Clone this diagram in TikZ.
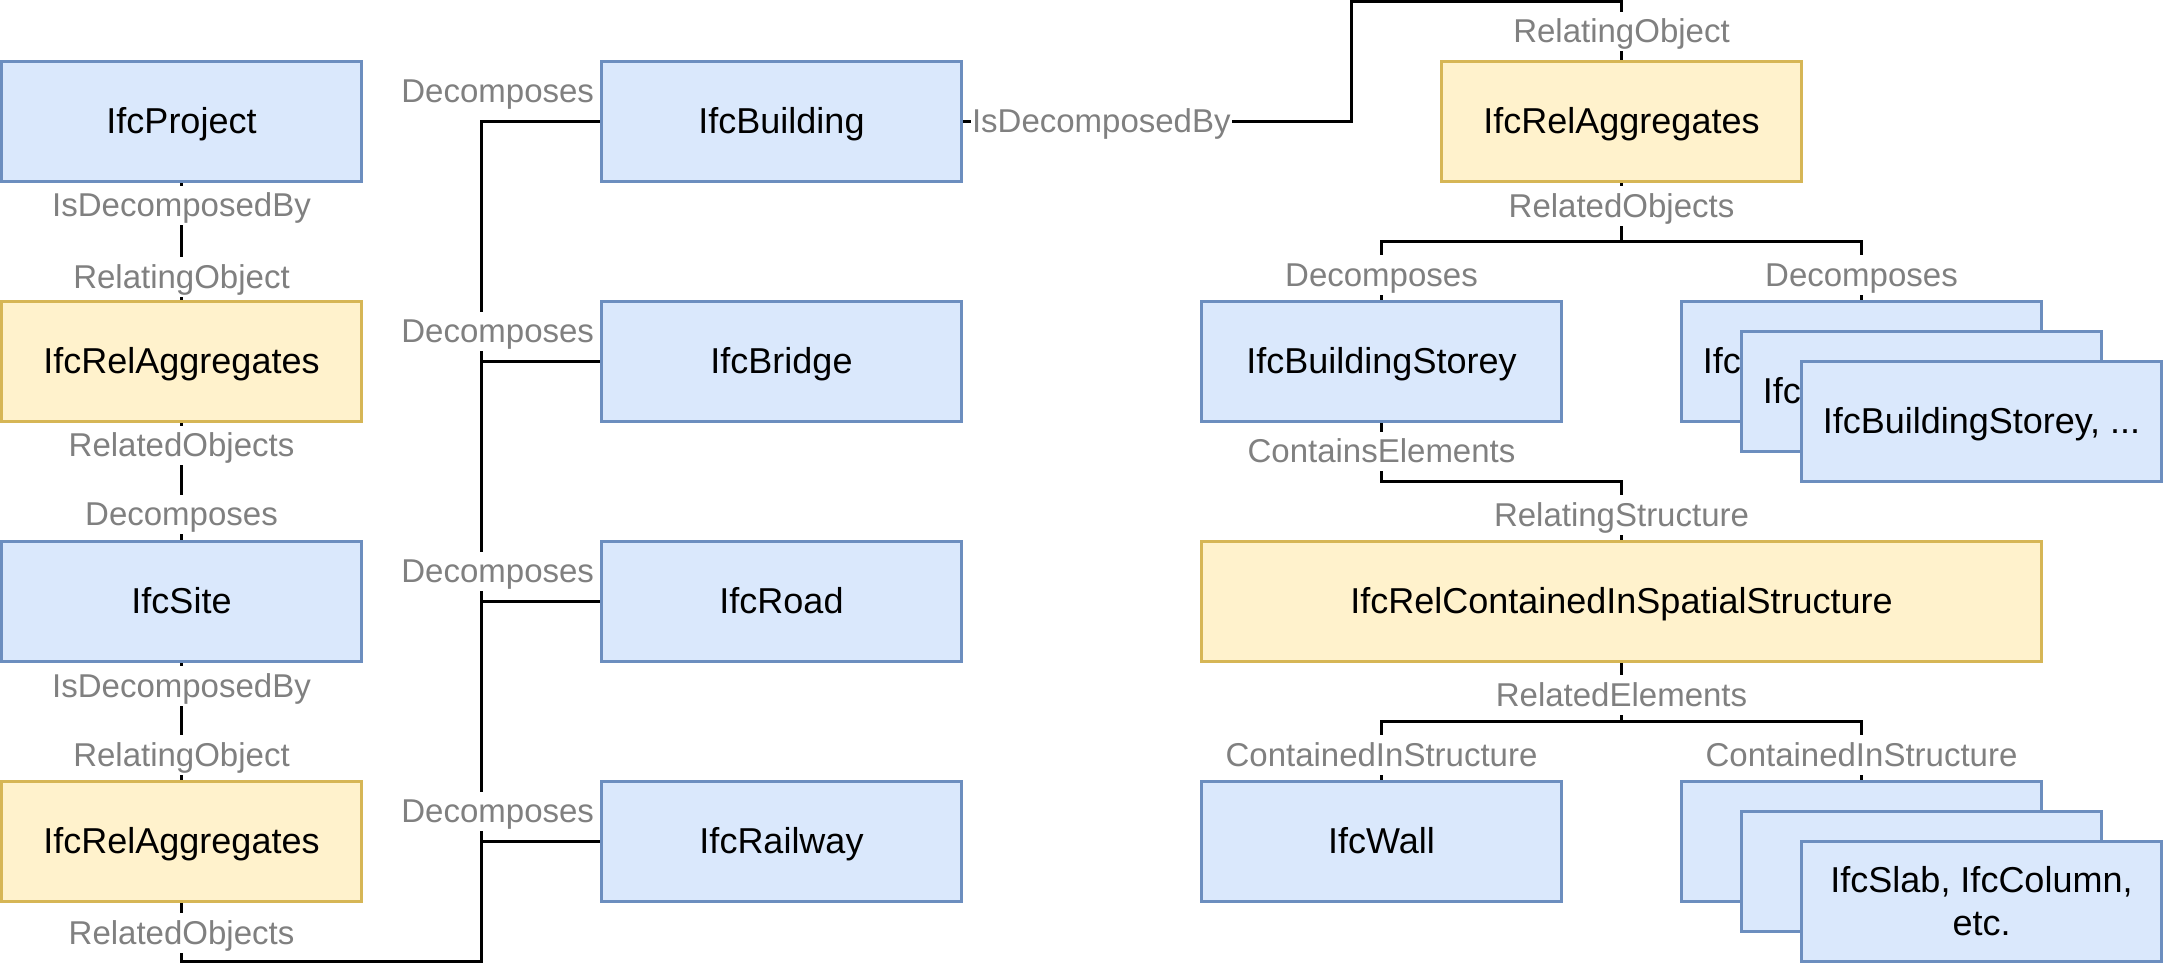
\documentclass[tikz,border=0pt]{standalone}
\usepackage{fontspec}
\setmainfont{Liberation Sans}
\usetikzlibrary{positioning, calc}
\definecolor{ifcBlue}{HTML}{DAE8FC}
\definecolor{ifcBlueLine}{HTML}{6C8EBF}
\definecolor{ifcYellow}{HTML}{FFF2CC}
\definecolor{ifcYellowLine}{HTML}{D6B656}
\definecolor{roleGray}{HTML}{808080}

\begin{document}
\begin{tikzpicture}[x=1pt, y=-1pt, line width=1pt,
    ifcbox/.style={draw=ifcBlueLine, fill=ifcBlue, minimum width=120pt, minimum height=40pt, inner sep=0pt, font=\fontsize{12}{14.4}\selectfont, align=center},
    entity/.style={ifcbox, text height=10.86pt, text depth=2.54pt},
    relation/.style={entity, draw=ifcYellowLine, fill=ifcYellow},
    role/.style={fill=white, text=roleGray, font=\fontsize{11}{13.2}\selectfont, inner xsep=0.5pt, inner ysep=0.5pt, text height=9.96pt, text depth=2.33pt}]
    \useasboundingbox (-0.5,-0.5) rectangle (720.5,321.5);
    % project, site
    \node[entity] (project) at (60,40) {IfcProject};
    \node[relation] (aggSite) at (60,120) {IfcRelAggregates};
    \node[entity] (site) at (60,200) {IfcSite};
    \node[relation] (aggFacility) at (60,280) {IfcRelAggregates};
    \foreach \n/\t [count=\i] in {building/IfcBuilding, bridge/IfcBridge, road/IfcRoad, railway/IfcRailway}
      \node[entity] (\n) at (260,-40+80*\i) {\t};
    % storeys and elements
    \node[relation] (aggStorey) at (540,40) {IfcRelAggregates};
    \node[entity] (storey) at (460,120) {IfcBuildingStorey};
    \foreach \i in {0,1,2}
      \node[entity] (storeys\i) at (620+20*\i,120+10*\i) {IfcBuildingStorey, ...};
    \node[relation, minimum width=280pt] (spatial) at (540,200) {IfcRelContainedInSpatialStructure};
    \node[entity] (wall) at (460,280) {IfcWall};
    \node[ifcbox] (elems0) at (620,280) {};
    \node[ifcbox] (elems1) at (640,290) {};
    \node[ifcbox] (elems2) at (660,300) {IfcSlab, IfcColumn,\\etc.};

    \coordinate (trunk) at (160,320);
    \coordinate (hop) at (450,0);
    \coordinate (forkStorey) at (540,80);
    \coordinate (forkSpatial) at (540,160);
    \coordinate (forkElems) at (540,240);
    \draw (project) -- (aggSite);
    \draw (aggSite) -- (site);
    \draw (site) -- (aggFacility);
    \foreach \n in {building, bridge, road, railway}
      \draw (aggFacility.south) |- (trunk) |- (\n.west);
    \draw (building.east) -| (hop) -| (aggStorey.north);
    \draw (aggStorey) -- (forkStorey) -| (storey.north);
    \draw (forkStorey) -| (storeys0.north);
    \draw (storey.south) |- (forkSpatial) -- (spatial);
    \draw (spatial) -- (forkElems) -| (wall.north);
    \draw (forkElems) -| (elems0.north);

    % attribute names
    \foreach \x/\y/\t [count=\i] in {60/68/IsDecomposedBy, 60/91.8/RelatingObject, 60/148/RelatedObjects, 60/171/Decomposes,
        60/228.2/IsDecomposedBy, 60/251.2/RelatingObject, 60/310.5/RelatedObjects,
        540/10/RelatingObject, 540/68.2/RelatedObjects, 460/91.2/Decomposes, 620/91.2/Decomposes,
        460/150/ContainsElements, 540/171.2/RelatingStructure, 540/231.2/RelatedElements,
        460/251.2/ContainedInStructure, 620/251.2/ContainedInStructure}
      \node[role] (role\i) at (\x,\y) {\t};
    \foreach \n in {building, bridge, road, railway}
      \node[role, anchor=east] (dec\n) at ([shift={(-1,-10)}]\n.west) {Decomposes};
    \node[role, anchor=west] (isDecBuilding) at ([xshift=2pt]building.east) {IsDecomposedBy};
\end{tikzpicture}
\end{document}
